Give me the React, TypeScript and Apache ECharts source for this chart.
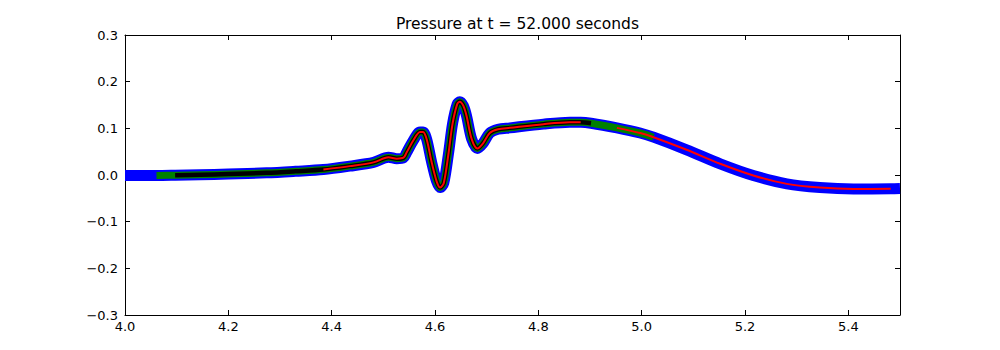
import React, { useEffect, useRef } from "react";
import * as echarts from "echarts";

const TITLE = "Pressure at t = 52.000 seconds";

const xs = [4.0, 4.061, 4.097, 4.145, 4.2, 4.274, 4.33, 4.384, 4.435, 4.481, 4.51, 4.526, 4.539, 4.545, 4.558, 4.571, 4.577, 4.584, 4.593, 4.603, 4.61, 4.617, 4.626, 4.634, 4.643, 4.648, 4.655, 4.661, 4.671, 4.682, 4.693, 4.706, 4.722, 4.745, 4.81, 4.861, 4.882, 4.902, 4.952, 4.997, 5.023, 5.087, 5.152, 5.216, 5.281, 5.345, 5.41, 5.482, 5.5];
const ys = [-0.001, -0.001, -0.0005, 0.0004, 0.002, 0.0047, 0.008, 0.0117, 0.019, 0.027, 0.038, 0.035, 0.037, 0.048, 0.074, 0.092, 0.092, 0.076, 0.03, -0.013, -0.027, -0.017, 0.045, 0.11, 0.152, 0.157, 0.148, 0.127, 0.077, 0.057, 0.068, 0.09, 0.098, 0.101, 0.109, 0.113, 0.113, 0.111, 0.101, 0.09, 0.081, 0.054, 0.024, -0.001, -0.019, -0.027, -0.03, -0.0295, -0.029];

// refinement-level extents [start, end] in x
const blueRanges = [[4.0, 5.5]];
const greenRanges = [[4.061, 5.023]];
const blackRanges = [[4.097, 4.902]];
const redRanges = [[4.384, 4.882], [4.952, 5.482]];

const X_TICKS = { min: 4.0, max: 5.5, interval: 0.2 };
const Y_TICKS = { min: -0.3, max: 0.3, interval: 0.1 };

function segment(a: number, b: number) {
  const out: number[][] = [];
  for (let i = 0; i < xs.length; i++) {
    if (xs[i] >= a - 1e-9 && xs[i] <= b + 1e-9) out.push([xs[i], ys[i]]);
  }
  return out;
}

function makeSeries(ranges: number[][], color: string, width: number) {
  return ranges.map((r) => ({
    type: "line",
    data: segment(r[0], r[1]),
    showSymbol: false,
    smooth: 0.3,
    lineStyle: { color, width, cap: "butt", join: "round" },
    silent: true,
  }));
}

const fmt = (v: number) => (Math.abs(v) < 1e-9 ? "0.0" : v.toFixed(1).replace("-", "\u2212"));

export default function App() {
  const ref = useRef<HTMLDivElement>(null);
  useEffect(() => {
    const chart = echarts.init(ref.current!, null, { renderer: "svg" });
    const font = "DejaVu Sans";
    const axisCommon = {
      axisLine: { show: true, onZero: false, lineStyle: { color: "#000", width: 1 } },
      axisTick: { show: true, inside: true, length: 5, lineStyle: { color: "#000" } },
      splitLine: { show: false },
    };
    chart.setOption({
      animation: false,
      backgroundColor: "#fff",
      title: {
        text: TITLE,
        left: 512.5,
        textAlign: "center",
        top: 11,
        textStyle: { fontFamily: font, fontSize: 15.5, fontWeight: "normal", color: "#000" },
      },
      grid: { left: 125, right: 100, top: 35, bottom: 35, containLabel: false },
      xAxis: [
        {
          type: "value",
          ...X_TICKS,
          position: "bottom",
          ...axisCommon,
          axisLabel: { formatter: fmt, fontFamily: font, fontSize: 13, color: "#000", margin: 5, showMaxLabel: false },
        },
        {
          type: "value",
          ...X_TICKS,
          position: "top",
          ...axisCommon,
          axisLabel: { show: false },
        },
      ],
      yAxis: [
        {
          type: "value",
          ...Y_TICKS,
          position: "left",
          ...axisCommon,
          axisLabel: { formatter: fmt, fontFamily: font, fontSize: 13, color: "#000", margin: 7 },
        },
        {
          type: "value",
          ...Y_TICKS,
          position: "right",
          ...axisCommon,
          axisLabel: { show: false },
        },
      ],
      series: [
        ...makeSeries(blueRanges, "#0000ff", 11),
        ...makeSeries(greenRanges, "#008000", 7),
        ...makeSeries(blackRanges, "#000000", 4.5),
        ...makeSeries(redRanges, "#ff0000", 2),
      ],
    });
    return () => chart.dispose();
  }, []);
  return <div ref={ref} style={{ position: "fixed", left: 0, top: 0, width: 1000, height: 350 }} />;
}
